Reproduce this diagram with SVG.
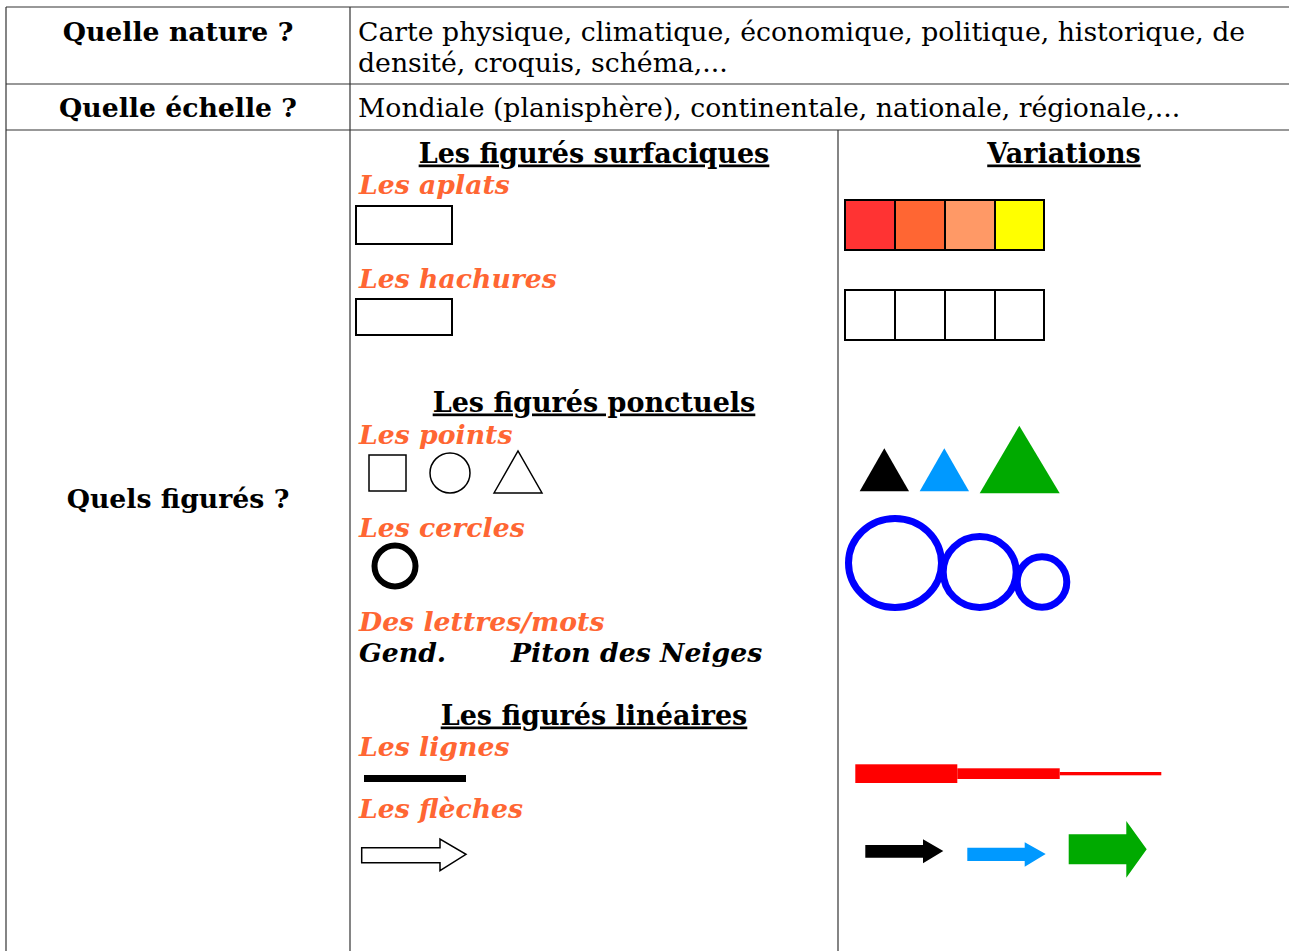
<svg xmlns="http://www.w3.org/2000/svg" width="1289" height="951" viewBox="0 0 1289 951">
<style>
text{font-family:"DejaVu Serif","Liberation Serif",serif;font-size:26.7px;fill:#000}
.b{font-weight:bold}
.h{font-weight:bold;font-size:27px;text-decoration:underline;text-anchor:middle}
.o{font-weight:bold;font-style:italic;fill:#ff6633}
.bi{font-weight:bold;font-style:italic}
.c{text-anchor:middle}
.grid{stroke:#333;stroke-width:1.2;fill:none}
.box{fill:#fff;stroke:#000;stroke-width:2}
.thin{fill:#fff;stroke:#000;stroke-width:1.5}
.ring{fill:none;stroke:#0000ff;stroke-width:7}
</style>
<rect x="0" y="0" width="1289" height="951" fill="#fff"/>
<g id="grid" class="grid">
<line x1="6" y1="7" x2="1289" y2="7"/>
<line x1="6" y1="84" x2="1289" y2="84"/>
<line x1="6" y1="130" x2="1289" y2="130"/>
<line x1="6" y1="7" x2="6" y2="951"/>
<line x1="350" y1="7" x2="350" y2="951"/>
<line x1="838" y1="130" x2="838" y2="951"/>
</g>
<g id="row-nature">
<text class="b c" x="178" y="40.5">Quelle nature ?</text>
<text x="358" y="40.5">Carte physique, climatique, économique, politique, historique, de</text>
<text x="358" y="71.5">densité, croquis, schéma,...</text>
</g>
<g id="row-echelle">
<text class="b c" x="178" y="116.5">Quelle échelle ?</text>
<text x="358" y="116.5">Mondiale (planisphère), continentale, nationale, régionale,...</text>
</g>
<g id="row-figures">
<text class="b c" x="178" y="507.5">Quels figurés ?</text>
</g>
<g id="surfaciques">
<text class="h" x="594" y="162.5">Les figurés surfaciques</text>
<text class="o" x="359" y="193.5">Les aplats</text>
<rect class="box" x="356" y="206" width="96" height="38"/>
<text class="o" x="359" y="287.5">Les hachures</text>
<rect class="box" x="356" y="299" width="96" height="36"/>
</g>
<g id="variations-surf">
<text class="h" x="1064" y="162.5">Variations</text>
<rect x="845" y="200" width="50" height="50" fill="#ff3333" stroke="#000" stroke-width="2"/>
<rect x="895" y="200" width="50" height="50" fill="#ff6633" stroke="#000" stroke-width="2"/>
<rect x="945" y="200" width="50" height="50" fill="#ff9966" stroke="#000" stroke-width="2"/>
<rect x="995" y="200" width="49" height="50" fill="#ffff00" stroke="#000" stroke-width="2"/>
<rect class="box" x="845" y="290" width="50" height="50"/>
<rect class="box" x="895" y="290" width="50" height="50"/>
<rect class="box" x="945" y="290" width="50" height="50"/>
<rect class="box" x="995" y="290" width="49" height="50"/>
</g>
<g id="ponctuels">
<text class="h" x="594" y="411.5">Les figurés ponctuels</text>
<text class="o" x="359" y="443.5">Les points</text>
<rect class="thin" x="369" y="455" width="37" height="36"/>
<circle class="thin" cx="450" cy="473" r="20"/>
<polygon class="thin" points="494,493 518,451 542,493"/>
<text class="o" x="359" y="536.5">Les cercles</text>
<circle cx="395" cy="566" r="20.5" fill="none" stroke="#000" stroke-width="6"/>
<text class="o" x="359" y="630.5">Des lettres/mots</text>
<text class="bi" x="359" y="661.5">Gend.</text>
<text class="bi" x="511" y="661.5">Piton des Neiges</text>
</g>
<g id="variations-ponct">
<polygon points="859.7,491.3 884.3,448.3 909,491.3" fill="#000"/>
<polygon points="919.7,491.3 944.3,448.3 969,491.3" fill="#0099ff"/>
<polygon points="979.7,493.3 1019.3,425.7 1059.7,493.3" fill="#00aa00"/>
<ellipse class="ring" cx="895" cy="563" rx="46.5" ry="44.5"/>
<ellipse class="ring" cx="979.7" cy="572" rx="36.5" ry="35.5"/>
<ellipse class="ring" cx="1042" cy="582" rx="24.8" ry="25.2"/>
</g>
<g id="lineaires">
<text class="h" x="594" y="724.5">Les figurés linéaires</text>
<text class="o" x="359" y="755.5">Les lignes</text>
<rect x="364" y="775" width="102" height="7" fill="#000"/>
<text class="o" x="359" y="817.5">Les flèches</text>
<polygon class="thin" points="361.7,847.7 440,847.7 440,839 466,854.3 440,870.7 440,862.7 361.7,862.7"/>
</g>
<g id="variations-lin">
<rect x="855.3" y="764.3" width="102" height="18.7" fill="#ff0000"/>
<rect x="957.3" y="768.3" width="102.4" height="10.7" fill="#ff0000"/>
<rect x="1059.7" y="772" width="101.6" height="3.3" fill="#ff0000"/>
<polygon points="865.3,845 923,845 923,839.3 943.3,851 923,863.3 923,857.7 865.3,857.7" fill="#000"/>
<polygon points="967.3,847.7 1024.7,847.7 1024.7,842.3 1045.7,854 1024.7,866.7 1024.7,861 967.3,861" fill="#0099ff"/>
<polygon points="1068.7,834.3 1126.3,834.3 1126.3,821 1146.7,849.3 1126.3,877.7 1126.3,864.3 1068.7,864.3" fill="#00aa00"/>
</g>
</svg>
